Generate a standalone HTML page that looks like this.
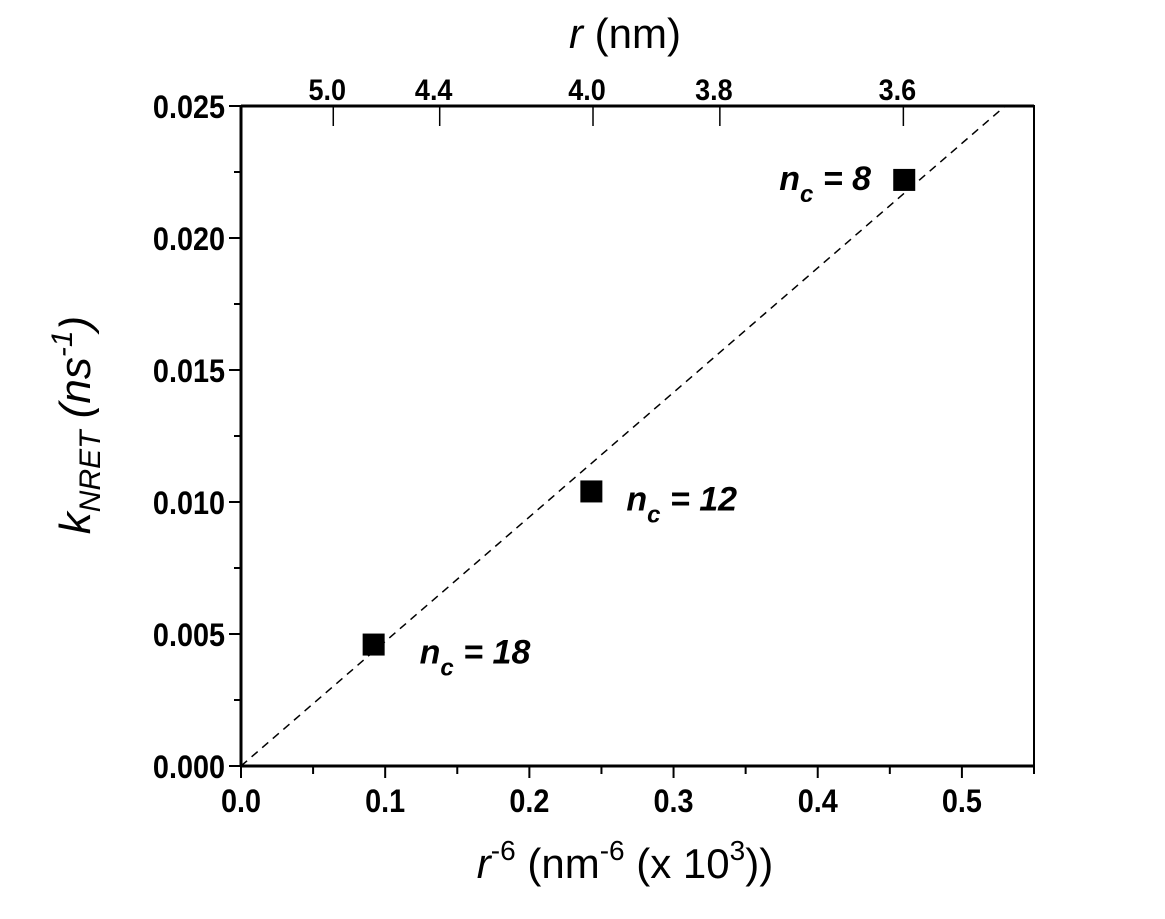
<!DOCTYPE html>
<html><head><meta charset="utf-8"><style>
body{margin:0;background:#fff}
svg{display:block;font-family:"Liberation Sans",Arial,sans-serif;font-weight:bold}
</style></head><body>
<svg width="1165" height="919" viewBox="0 0 1165 919">
<g id="g"></g>
</svg>
<script>
const xTicks=[0.0,0.1,0.2,0.3,0.4,0.5];
const yTicks=[0.000,0.005,0.010,0.015,0.020,0.025];
const topTicks=[5.0,4.4,4.0,3.8,3.6];
const ptX=[0.092,0.243,0.46];
const ptY=[0.0046,0.0104,0.0222];
const ptLabels=["18","12","8"];
const fitX=[0,0.53];
const fitY=[0,0.025];
const L=241,R=1034,T=106,B=766;
const X=v=>L+v/0.55*(R-L);
const Y=v=>B-v/0.025*(B-T);
const NS="http://www.w3.org/2000/svg";
const g=document.getElementById('g');
function mk(t,a,p){const e=document.createElementNS(NS,t);for(const k in a)e.setAttribute(k,a[k]);(p||g).appendChild(e);return e;}
let e;
e=mk('rect',{x:L,y:T,width:R-L,height:B-T,fill:'none',stroke:'#000','stroke-width':2});


e=mk('line',{x1:L,y1:T,x2:R,y2:T,stroke:'#000','stroke-width':3});


e=mk('line',{x1:L,y1:B,x2:R,y2:B,stroke:'#000','stroke-width':3});


e=mk('line',{x1:L,y1:T,x2:L,y2:B,stroke:'#000','stroke-width':3});


for(let i=0;i<=11;i++){const v=i*0.05;const major=i%2==0;
 e=mk('line',{x1:X(v),y1:B,x2:X(v),y2:B+(major?12:8),stroke:'#000','stroke-width':2});
 
 }
xTicks.forEach(v=>{e=mk('text',{x:X(v),y:B+46,'text-anchor':'middle','font-size':32,transform:`translate(${X(v)*0.1},0) scale(0.9,1)`});e.textContent=v.toFixed(1);
 
 });
for(let i=0;i<=10;i++){const v=i*0.0025;const major=i%2==0;
 e=mk('line',{x1:L,y1:Y(v),x2:L-(major?12:7),y2:Y(v),stroke:'#000','stroke-width':2});
 
 }
yTicks.forEach(v=>{e=mk('text',{x:L-16,y:Y(v)+12,'text-anchor':'end','font-size':32,transform:`translate(${(L-16)*0.1},0) scale(0.9,1)`});e.textContent=v.toFixed(3);
 
 });
topTicks.forEach(r=>{const v=1000/Math.pow(r,6);
 e=mk('line',{x1:X(v),y1:T,x2:X(v),y2:T+20,stroke:'#000','stroke-width':1.5});
 
 
 const cx=X(v)-6;
 e=mk('text',{x:cx,y:T-6,'text-anchor':'middle','font-size':30,transform:`translate(${cx*0.1},0) scale(0.9,1)`});e.textContent=r.toFixed(1);
 
 });
e=mk('line',{x1:X(fitX[0]),y1:Y(fitY[0]),x2:X(fitX[1]),y2:Y(fitY[1]),stroke:'#000','stroke-width':1.5,'stroke-dasharray':'8,6'});


const offX=[46,35,-125];
ptX.forEach((x,i)=>{
 e=mk('rect',{x:X(x)-11,y:Y(ptY[i])-11,width:22,height:22,fill:'#000'});
 
 
 const right=i<2;
 const tx=X(x)+offX[i], ty=right?Y(ptY[i])+19:Y(ptY[i])+10;
 e=mk('text',{x:tx,y:ty,'font-size':34,'font-style':'italic'});
 e.innerHTML='n<tspan font-size="24" dy="12">c</tspan><tspan dy="-12"> = '+ptLabels[i]+'</tspan>';
 
 
});
e=mk('text',{x:625,y:878,'text-anchor':'middle','font-size':42,'font-weight':'normal'});
e.innerHTML='<tspan font-style="italic">r</tspan><tspan font-size="28" dy="-18">-6</tspan><tspan dy="18"> (nm</tspan><tspan font-size="28" dy="-18">-6</tspan><tspan dy="18"> (x 10</tspan><tspan font-size="28" dy="-18">3</tspan><tspan dy="18">))</tspan>';


e=mk('text',{x:625,y:48,'text-anchor':'middle','font-size':42,'font-weight':'normal'});
e.innerHTML='<tspan font-style="italic">r</tspan> (nm)';


e=mk('text',{x:0,y:0,'text-anchor':'middle','font-size':44,'font-style':'italic','font-weight':'normal',transform:'translate(90,425) rotate(-90)'});
e.innerHTML='k<tspan font-size="30" dy="10">NRET</tspan><tspan dy="-10"> (ns</tspan><tspan font-size="30" dy="-18">-1</tspan><tspan dy="18">)</tspan>';


</script>
</body></html>
